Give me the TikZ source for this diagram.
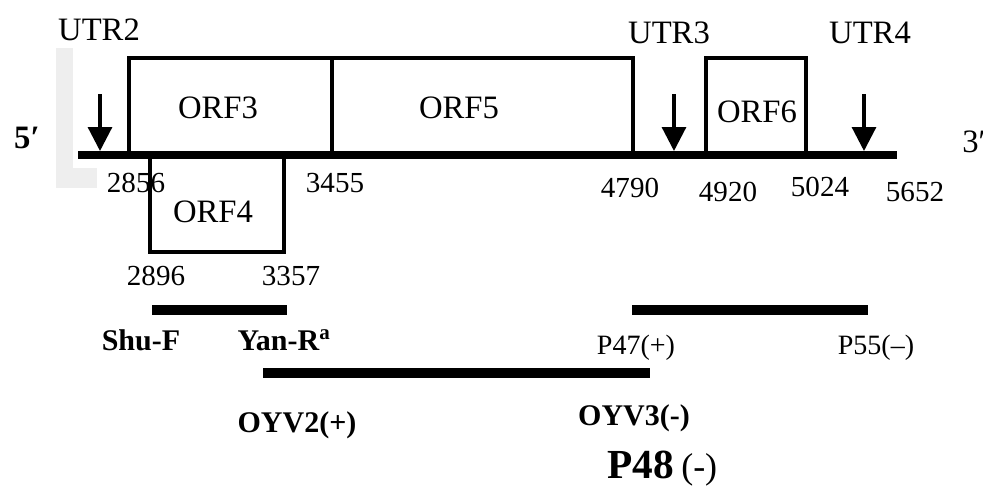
\documentclass[tikz,border=0pt]{standalone}
\usepackage{fontspec}
\setmainfont{Liberation Serif}
\usetikzlibrary{arrows.meta}
\tikzset{
  orfbox/.style={draw=black, line width=2.3pt},
  genome/.style={line width=5.5pt},
  ampbar/.style={line width=7.5pt},
  utrarrow/.style={line width=2.4pt, -{Triangle[length=18pt,width=18pt]}},
  lbl/.style={font=\fontsize{24.5}{26}\selectfont, inner sep=0pt, anchor=base},
  num/.style={font=\fontsize{21.8}{24}\selectfont, inner sep=0pt, anchor=base},
  prim/.style={font=\fontsize{22.5}{24}\selectfont\bfseries, inner sep=0pt, anchor=base},
  primr/.style={font=\fontsize{21}{23}\selectfont, inner sep=0pt, anchor=base},
}
\begin{document}
\begin{tikzpicture}[x=0.75pt, y=-0.75pt]
\useasboundingbox (0,0) rectangle (983,486);
% faint grey L
\fill[gray!13] (56,48) rectangle (73,188);
\fill[gray!13] (56,168) rectangle (97,188);
% boxes
\draw[orfbox] (129,155) -- (129,58) -- (332,58) -- (332,155);
\draw[orfbox] (332,58) -- (633,58) -- (633,155);
\draw[orfbox] (706,155) -- (706,58) -- (806,58) -- (806,155);
\draw[orfbox] (150,155) -- (150,252) -- (284,252) -- (284,155);
% genome line
\coordinate (g5) at (78,155);
\coordinate (g3) at (897,155);
\draw[genome] (g5) -- (g3);
% UTR arrows
\coordinate (a2s) at (100,94); \coordinate (a2e) at (100,151);
\coordinate (a3s) at (674,94); \coordinate (a3e) at (674,151);
\coordinate (a4s) at (864,94); \coordinate (a4e) at (864,151);
\draw[utrarrow] (a2s) -- (a2e);
\draw[utrarrow] (a3s) -- (a3e);
\draw[utrarrow] (a4s) -- (a4e);
% labels
\node[lbl] (utr2) at (99,40) {UTR2};
\node[lbl] (utr3) at (669,43) {UTR3};
\node[lbl] (utr4) at (870,43) {UTR4};
\node[lbl] (orf3) at (218,118) {ORF3};
\node[lbl] (orf5) at (459,118) {ORF5};
\node[lbl] (orf6) at (757,122) {ORF6};
\node[lbl] (orf4) at (213,222) {ORF4};
\node[lbl, font=\fontsize{24.5}{26}\selectfont\bfseries] (five) at (27,148) {5′};
\node[lbl, anchor=base west] (three) at (962,152) {3′};
% positions
\node[num] (n2856) at (136,192) {2856};
\node[num] (n3455) at (335,192) {3455};
\node[num] (n4790) at (630,197) {4790};
\node[num] (n4920) at (728,201) {4920};
\node[num] (n5024) at (820,196) {5024};
\node[num] (n5652) at (915,201) {5652};
\node[num] (n2896) at (156,285) {2896};
\node[num] (n3357) at (291,285) {3357};
% amplicon bars
\coordinate (b1s) at (152,310); \coordinate (b1e) at (287,310);
\coordinate (b2s) at (263,372.5); \coordinate (b2e) at (650,372.5);
\coordinate (b3s) at (632,310); \coordinate (b3e) at (868,310);
\draw[ampbar] (b1s) -- (b1e);
\draw[ampbar] (b2s) -- (b2e);
\draw[ampbar] (b3s) -- (b3e);
% primers
\node[prim] (shuf) at (141,350) {Shu-F};
\node[prim] (yanr) at (284,350) {Yan-R\textsuperscript{a}};
\node[prim] (oyv2) at (297,432) {OYV2(+)};
\node[prim] (oyv3) at (634,425) {OYV3(-)};
\node[primr] (p47) at (636,354) {P47(+)};
\node[primr] (p55) at (876,354) {P55(–)};
\node[inner sep=0pt, anchor=base west, font=\fontsize{31}{33}\selectfont\bfseries] (p48) at (607,478) {P48};
\node[inner sep=0pt, anchor=base west, font=\fontsize{27}{29}\selectfont] (p48s) at (681,478) {(-)};
\end{tikzpicture}
\end{document}
